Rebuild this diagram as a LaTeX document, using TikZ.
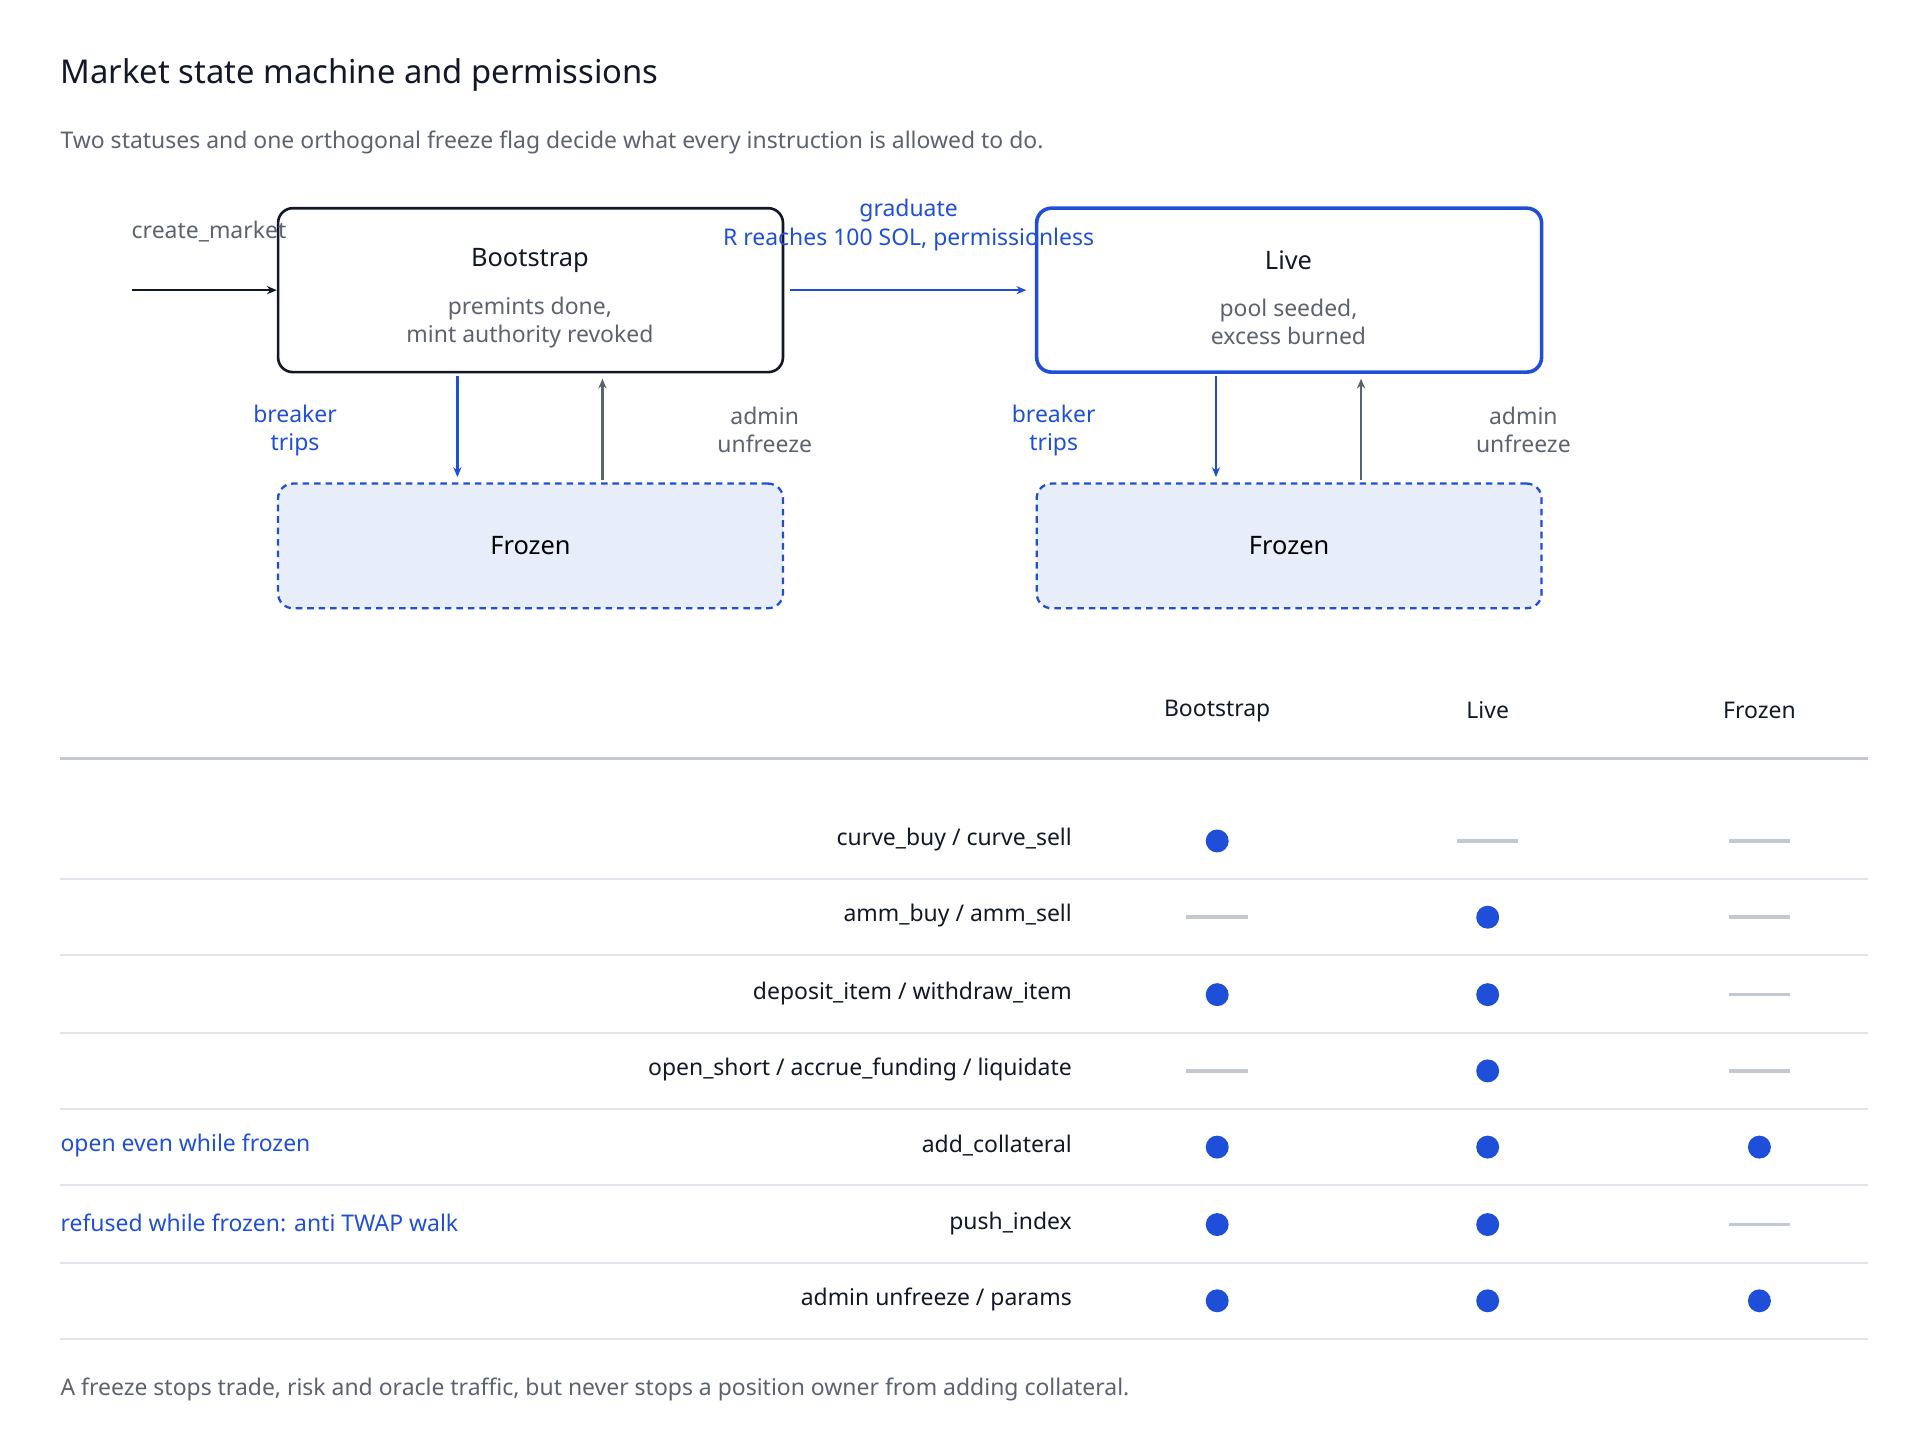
\documentclass[tikz,border=0pt]{standalone}
\usepackage{fontspec}
\setmainfont{Noto Sans}
\usetikzlibrary{arrows.meta,calc}
\definecolor{blu}{HTML}{1F4FD8}
\definecolor{gtx}{HTML}{5B6270}
\definecolor{dk}{HTML}{111827}
\definecolor{ln}{HTML}{C4C8D0}
\definecolor{sep}{HTML}{E3E5EA}
\definecolor{frz}{HTML}{E8EDFA}
\begin{document}
\begin{tikzpicture}[x=0.75pt,y=-0.75pt,
 txt/.style={font=\fontsize{14}{17}\selectfont,inner sep=0pt},
 state/.style={draw=dk,line width=1.6pt,rounded corners=9pt,minimum width=308pt,minimum height=100pt},
 frozen/.style={draw=blu,line width=1.4pt,dash pattern=on 4pt off 3pt,fill=frz,rounded corners=9pt,minimum width=308pt,minimum height=76pt,font=\fontsize{15.5}{18}\selectfont\bfseries},
 arr/.style={-{Stealth[length=6pt,width=5pt]},line width=1.4pt},
 dot/.style={circle,fill=blu,inner sep=0pt,minimum size=14pt},
 dsh/.style={ln,line width=2.2pt}]
\useasboundingbox (0,0) rectangle (1560,1184);
\node[anchor=west,font=\fontsize{20}{24}\selectfont\bfseries,text=dk,inner sep=0pt] (title) at (49,61) {Market state machine and permissions};
\node[anchor=west,txt,text=gtx] (sub) at (49,116) {Two statuses and one orthogonal freeze flag decide what every instruction is allowed to do.};
% states
\node[state] (boot) at (431.5,236) {};
\node[font=\fontsize{15.5}{18}\selectfont\bfseries,text=dk] (bootT) at (431,212) {Bootstrap};
\node[txt,text=gtx,align=center] (bootS) at (431,262) {premints done,\\mint authority revoked};
\node[state,draw=blu,line width=2.2pt] (live) at (1048.5,236) {};
\node[font=\fontsize{15.5}{18}\selectfont\bfseries,text=dk] (liveT) at (1048,212) {Live};
\node[txt,text=gtx,align=center] (liveS) at (1048,262) {pool seeded,\\excess burned};
\node[frozen] (f1) at (431.5,444) {Frozen};
\node[frozen] (f2) at (1048.5,444) {Frozen};
% entry
\coordinate (start) at (107,236);
\draw[arr,dk] (start) -- (boot.west);
\node[txt,text=gtx] (cm) at (170,188) {create\_market};
\draw[arr,blu] ($(boot.east)+(5,0)$) -- ($(live.west)+(-7,0)$);
\node[txt,text=blu] (g1) at (739,171) {graduate};
\node[txt,text=blu] (g2) at (739,195) {R reaches 100 SOL, permissionless};
% freeze arrows
\foreach \dx in {0,617}{
 \draw[arr,blu] (372+\dx,306) -- (372+\dx,388);
 \draw[arr,gtx] (490+\dx,390) -- (490+\dx,308);
 \node[txt,text=blu,align=center] at (240+\dx,350) {breaker\\trips};
 \node[txt,text=gtx,align=center] at (622+\dx,350) {admin\\unfreeze};
}
% table
\node[font=\fontsize{14}{17}\selectfont\bfseries,text=dk] (h1) at (990,578) {Bootstrap};
\node[font=\fontsize{14}{17}\selectfont\bfseries,text=dk] (h2) at (1210,578) {Live};
\node[font=\fontsize{14}{17}\selectfont\bfseries,text=dk] (h3) at (1431,578) {Frozen};
\draw[ln,line width=1.6pt] (49,617) -- (1519,617);
\foreach \y/\lab/\a/\b/\c in {683/{curve\_buy / curve\_sell}/1/0/0,
745/{amm\_buy / amm\_sell}/0/1/0,
808/{deposit\_item / withdraw\_item}/1/1/0,
870/{open\_short / accrue\_funding / liquidate}/0/1/0,
932/{add\_collateral}/1/1/1,
995/{push\_index}/1/1/0,
1057/{admin unfreeze / params}/1/1/1}{
 \node[txt,anchor=east,text=dk] at (872,\y) {\lab};
 \draw[sep,line width=1pt] (49,\y+32) -- (1519,\y+32);
 \foreach \v/\x in {\a/990,\b/1210,\c/1431}{
  \ifnum\v=1 \node[dot] at (\x,\y+1) {};
  \else \draw[dsh] (\x-25,\y+1) -- (\x+25,\y+1); \fi
 }
}
\node[txt,anchor=west,text=blu] (n1) at (49,932) {open even while frozen};
\node[txt,anchor=west,text=blu] (n2) at (49,995) {refused while frozen: anti TWAP walk};
\node[txt,anchor=west,text=gtx] (foot) at (49,1130) {A freeze stops trade, risk and oracle traffic, but never stops a position owner from adding collateral.};
\end{tikzpicture}
\end{document}
